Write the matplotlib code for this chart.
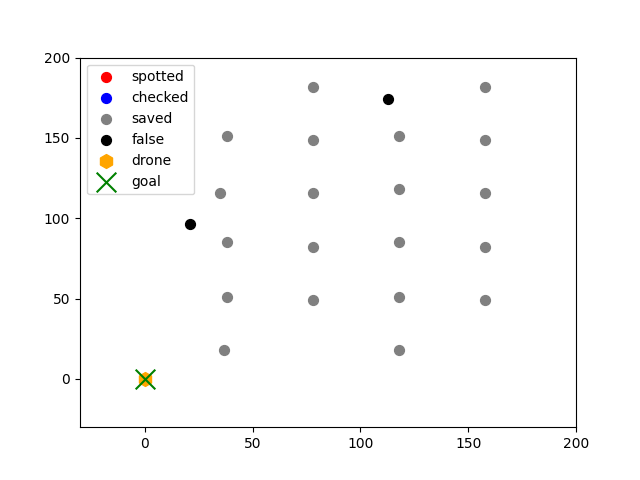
import numpy as np
import matplotlib
matplotlib.use("Agg")
import matplotlib.pyplot as plt

# Points
saved_x = [78, 158, 38, 78, 118, 158, 35, 78, 118, 158, 38, 78, 118, 158, 38, 78, 118, 158, 37, 118]
saved_y = [182, 182, 151, 149, 151, 149, 116, 116, 118, 116, 85, 82, 85, 82, 51, 49, 51, 49, 18, 18]
false_x = [21, 113]
false_y = [96.5, 174]
spotted_x, spotted_y = [], []
checked_x, checked_y = [], []
drone = (0, 0)
goal = (0, 0)

fig, ax = plt.subplots(figsize=(6.4, 4.8), dpi=100)
ax.scatter(spotted_x, spotted_y, c="red", s=50, label="spotted")
ax.scatter(checked_x, checked_y, c="blue", s=50, label="checked")
ax.scatter(saved_x, saved_y, c="gray", s=50, label="saved")
ax.scatter(false_x, false_y, c="black", s=50, label="false")
ax.scatter([drone[0]], [drone[1]], c="orange", marker="h", s=100, label="drone")
ax.scatter([goal[0]], [goal[1]], c="green", marker="x", s=200, label="goal")

ax.set_xlim(-30, 200)
ax.set_ylim(-30, 200)
ax.legend(loc="upper left")

plt.savefig("out.png")
